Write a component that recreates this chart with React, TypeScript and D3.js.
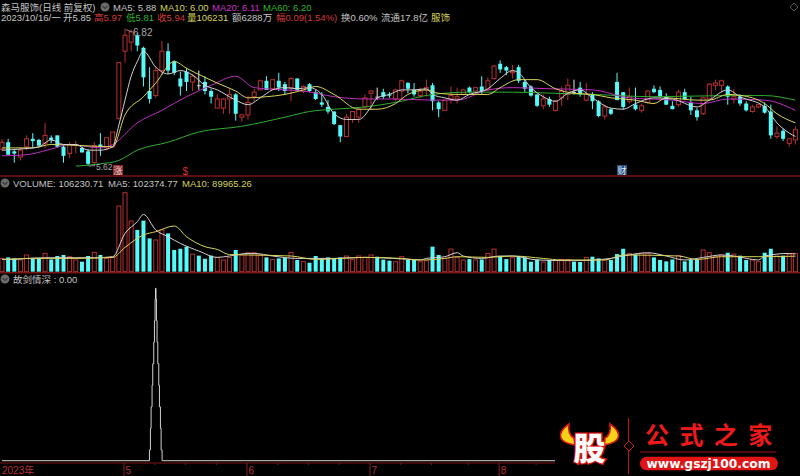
import { useEffect, useRef } from "react";
import * as d3 from "d3";

const opens = [5.77,5.83,5.75,5.70,5.79,5.86,5.85,5.82,5.87,5.89,5.79,5.73,5.80,5.78,5.75,5.65,5.81,5.78,5.79,6.04,6.63,6.71,6.77,6.66,6.28,6.24,6.46,6.63,6.54,6.39,6.45,6.36,6.33,6.36,6.28,6.13,6.13,6.21,6.25,6.05,6.07,6.23,6.29,6.37,6.30,6.37,6.34,6.31,6.39,6.28,6.34,6.27,6.18,6.14,6.10,5.98,5.88,6.03,6.05,6.14,6.26,6.23,6.27,6.25,6.21,6.28,6.35,6.29,6.24,6.29,6.33,6.18,6.11,6.21,6.21,6.25,6.31,6.28,6.32,6.29,6.39,6.52,6.49,6.44,6.49,6.36,6.32,6.25,6.15,6.21,6.11,6.22,6.25,6.27,6.31,6.20,6.25,6.19,6.06,6.12,6.36,6.27,6.19,6.16,6.11,6.18,6.30,6.29,6.23,6.15,6.16,6.27,6.18,6.11,6.08,6.21,6.33,6.33,6.32,6.21,6.23,6.17,6.10,6.14,6.15,6.10,5.88,5.93,5.82,5.85];
const highs = [5.86,5.86,5.76,5.78,5.89,5.91,5.86,6.00,5.89,5.89,5.81,5.83,5.84,5.79,5.77,5.83,5.91,5.87,5.92,6.53,6.83,6.82,6.79,6.67,6.49,6.49,6.72,6.70,6.55,6.45,6.48,6.43,6.46,6.41,6.30,6.25,6.22,6.30,6.26,6.08,6.24,6.30,6.38,6.41,6.38,6.44,6.36,6.40,6.39,6.33,6.35,6.29,6.27,6.20,6.10,5.98,6.08,6.10,6.14,6.25,6.29,6.31,6.30,6.27,6.30,6.38,6.36,6.35,6.31,6.38,6.35,6.19,6.20,6.32,6.31,6.30,6.32,6.31,6.41,6.40,6.51,6.55,6.50,6.51,6.51,6.38,6.33,6.25,6.25,6.23,6.20,6.32,6.39,6.38,6.36,6.35,6.27,6.20,6.16,6.13,6.44,6.27,6.31,6.31,6.17,6.29,6.33,6.32,6.26,6.19,6.29,6.30,6.23,6.13,6.23,6.35,6.38,6.38,6.33,6.30,6.25,6.19,6.16,6.17,6.18,6.16,5.97,5.95,5.86,5.97];
const lows = [5.75,5.72,5.65,5.67,5.76,5.78,5.79,5.78,5.82,5.78,5.65,5.69,5.73,5.74,5.62,5.64,5.71,5.76,5.78,6.03,6.53,6.63,6.63,6.32,6.17,6.22,6.42,6.43,6.42,6.24,6.28,6.28,6.29,6.25,6.17,6.13,6.08,6.08,6.02,6.01,6.03,6.19,6.29,6.29,6.29,6.28,6.25,6.19,6.28,6.26,6.27,6.20,6.14,6.08,5.98,5.83,5.88,6.00,6.00,6.13,6.11,6.20,6.21,6.22,6.19,6.21,6.26,6.23,6.22,6.23,6.11,6.05,6.11,6.17,6.17,6.24,6.26,6.25,6.25,6.28,6.38,6.44,6.42,6.39,6.35,6.27,6.23,6.14,6.12,6.14,6.10,6.15,6.20,6.25,6.23,6.19,6.12,6.05,6.03,6.07,6.20,6.12,6.17,6.11,6.09,6.17,6.26,6.22,6.16,6.12,6.14,6.20,6.07,6.02,6.07,6.20,6.29,6.27,6.16,6.17,6.15,6.10,6.09,6.13,6.08,5.86,5.86,5.84,5.79,5.81];
const closes = [5.83,5.72,5.73,5.76,5.86,5.84,5.80,5.89,5.85,5.79,5.71,5.81,5.81,5.74,5.64,5.80,5.79,5.87,5.92,6.53,6.77,6.80,6.68,6.40,6.21,6.46,6.63,6.46,6.44,6.32,6.36,6.41,6.33,6.28,6.23,6.21,6.21,6.25,6.08,6.07,6.18,6.27,6.37,6.29,6.38,6.31,6.28,6.39,6.29,6.32,6.28,6.21,6.16,6.10,5.99,5.88,6.05,6.10,6.12,6.22,6.28,6.23,6.23,6.24,6.29,6.37,6.30,6.25,6.28,6.31,6.19,6.12,6.20,6.24,6.23,6.29,6.27,6.31,6.28,6.37,6.50,6.47,6.46,6.45,6.37,6.30,6.24,6.15,6.21,6.16,6.19,6.28,6.33,6.27,6.25,6.25,6.19,6.06,6.14,6.08,6.20,6.14,6.23,6.12,6.15,6.28,6.27,6.23,6.16,6.12,6.27,6.21,6.11,6.05,6.22,6.34,6.35,6.37,6.23,6.23,6.17,6.11,6.14,6.16,6.09,5.89,5.91,5.86,5.86,5.94];
// volume in thousands of lots
const volumes = [77,83,77,68,97,77,77,106,71,91,97,87,68,58,91,112,97,77,83,381,458,294,242,296,193,184,242,222,126,133,145,102,93,75,93,83,68,83,126,97,110,110,97,83,71,77,81,112,68,58,52,91,75,83,77,83,91,71,91,83,97,87,70,64,58,87,68,68,58,64,145,97,77,131,83,68,73,68,71,106,131,91,73,81,91,83,58,71,56,68,64,71,71,58,56,83,87,77,68,68,102,133,106,100,106,106,83,68,60,71,93,60,68,71,126,110,87,97,110,102,93,68,68,58,110,133,91,93,102,106];

// moving averages as [bar, value]
const ma5: [number, number][] = [[0,5.76],[3,5.77],[6,5.79],[8,5.85],[10,5.81],[12,5.81],[14,5.76],[16,5.76],[18,5.79],[19,5.98],[20,6.20],[21,6.41],[22,6.54],[23,6.63],[25,6.49],[27,6.43],[29,6.46],[31,6.42],[33,6.33],[35,6.29],[38,6.20],[40,6.16],[42,6.22],[44,6.29],[46,6.31],[48,6.30],[50,6.31],[52,6.25],[54,6.08],[56,6.03],[58,6.03],[60,6.14],[61,6.22],[63,6.25],[65,6.29],[67,6.29],[69,6.30],[70,6.25],[72,6.22],[74,6.20],[76,6.25],[79,6.30],[81,6.39],[83,6.46],[84,6.44],[86,6.31],[88,6.23],[90,6.19],[92,6.26],[94,6.29],[96,6.22],[99,6.13],[101,6.12],[103,6.17],[106,6.22],[109,6.21],[113,6.14],[115,6.20],[118,6.29],[120,6.23],[124,6.14],[126,6.00],[128,5.91],[129,5.88]];
const ma10: [number, number][] = [[0,5.78],[5,5.78],[8,5.81],[13,5.80],[18,5.79],[20,6.07],[23,6.23],[25,6.35],[28,6.54],[30,6.48],[33,6.40],[35,6.35],[38,6.28],[40,6.22],[43,6.23],[46,6.25],[49,6.29],[51,6.32],[54,6.25],[58,6.12],[61,6.12],[64,6.17],[66,6.25],[69,6.29],[71,6.26],[74,6.25],[79,6.25],[81,6.31],[84,6.38],[87,6.38],[90,6.30],[93,6.26],[96,6.25],[99,6.22],[103,6.20],[106,6.17],[108,6.22],[113,6.20],[115,6.20],[118,6.25],[122,6.22],[124,6.17],[126,6.08],[129,6.00]];
const ma20: [number, number][] = [[0,5.71],[4,5.72],[8,5.77],[11,5.81],[16,5.78],[18,5.81],[22,6.00],[26,6.11],[30,6.23],[34,6.33],[38,6.41],[41,6.31],[46,6.29],[49,6.28],[54,6.23],[59,6.21],[64,6.21],[70,6.20],[74,6.20],[79,6.29],[83,6.31],[89,6.30],[96,6.29],[102,6.22],[109,6.20],[114,6.17],[118,6.21],[124,6.20],[129,6.11]];
const ma60: [number, number][] = [[12,5.62],[16,5.64],[19,5.67],[22,5.76],[27,5.83],[32,5.92],[39,5.97],[46,6.05],[50,6.10],[54,6.12],[59,6.14],[64,6.18],[70,6.25],[76,6.27],[83,6.27],[90,6.26],[96,6.25],[106,6.23],[118,6.24],[124,6.24],[129,6.20]];
const volMa5: [number, number][] = [[0,71],[2,71],[4,77],[8,81],[12,81],[15,81],[18,87],[20,222],[22,290],[23,332],[25,242],[27,203],[29,164],[32,120],[35,83],[37,91],[40,106],[41,106],[44,91],[48,77],[54,77],[59,83],[65,74],[68,68],[69,77],[72,87],[74,110],[75,91],[78,77],[81,91],[83,91],[87,68],[93,64],[99,77],[101,91],[105,110],[108,91],[111,68],[114,83],[117,97],[119,91],[123,68],[124,91],[128,106],[129,102]];
const volMa10: [number, number][] = [[0,71],[5,77],[12,77],[18,83],[20,141],[23,213],[25,232],[28,265],[30,203],[33,145],[35,129],[37,99],[40,97],[47,91],[51,71],[59,83],[65,77],[68,68],[72,77],[74,87],[79,83],[83,91],[88,77],[91,68],[98,68],[101,97],[110,91],[113,71],[117,87],[123,87],[129,90]];

// lower study: bar 25 spike, each step's level and half width in bars
const spikeLevels = [0,1,3,5,7,9,11,13,15,16];
const spikeHalfWidths = [1.03,0.87,0.76,0.6,0.49,0.33,0.21,0.11,0.04];
const spikeBar = 25;

const monthLabels = ["5","6","7","8"];
const monthBars = [20,40,60,81];
const minorBars = [25,30,35,45,50,55,65,70,76,87];

const FONT = "'Liberation Sans','Noto Sans CJK SC',sans-serif";
const CJK = "'Noto Sans CJK SC',sans-serif";
const RED = "#b83030";
const CYAN = "#55fbfb";

export default function App() {
  const svgRef = useRef<SVGSVGElement>(null);

  useEffect(() => {
    document.body.style.margin = "0";
    document.body.style.background = "#000";
    const svg = d3.select(svgRef.current);
    svg.selectAll("*").remove();

    const x = d3.scaleLinear().domain([0, 129]).range([2, 795.4]);
    const y = d3.scaleLinear().domain([5.62, 6.82]).range([166.1, 29.6]);
    const yVol = d3.scaleLinear().domain([0, 458]).range([271.7, 192.7]);
    const ySpike = d3.scaleLinear().domain([0, 16]).range([460.7, 288.3]);

    // candles
    const bars = d3.range(closes.length);
    const colorOf = (i: number) =>
      opens[i] === closes[i] ? "#e8e8e8" : closes[i] > opens[i] ? RED : CYAN;
    svg.append("g").selectAll("line").data(bars).enter().append("line")
      .attr("x1", (i) => x(i)).attr("x2", (i) => x(i))
      .attr("y1", (i) => y(highs[i])).attr("y2", (i) => y(lows[i]))
      .attr("stroke", colorOf).attr("stroke-width", 1);
    svg.append("g").selectAll("rect").data(bars).enter().append("rect")
      .attr("x", (i) => x(i) - 2)
      .attr("width", 4)
      .attr("y", (i) => y(Math.max(opens[i], closes[i])))
      .attr("height", (i) => Math.max(0.8, Math.abs(y(opens[i]) - y(closes[i]))))
      .attr("fill", (i) => (closes[i] > opens[i] ? "#000" : colorOf(i)))
      .attr("stroke", (i) => (closes[i] > opens[i] ? RED : "none"))
      .attr("stroke-width", 1);

    const priceLine = d3.line<[number, number]>()
      .x((d) => x(d[0])).y((d) => y(d[1])).curve(d3.curveMonotoneX);
    const volLine = d3.line<[number, number]>()
      .x((d) => x(d[0])).y((d) => yVol(d[1])).curve(d3.curveMonotoneX);
    const drawLine = (d: string | null, color: string) =>
      svg.append("path").attr("d", d).attr("fill", "none").attr("stroke", color).attr("stroke-width", 1);

    drawLine(priceLine(ma60), "#2fae2f");
    drawLine(priceLine(ma20), "#bd2fbd");
    drawLine(priceLine(ma10), "#d9d65c");
    drawLine(priceLine(ma5), "#d2d2d2");

    // volume
    svg.append("g").selectAll("rect").data(bars).enter().append("rect")
      .attr("x", (i) => x(i) - 2)
      .attr("width", 4)
      .attr("y", (i) => yVol(volumes[i]))
      .attr("height", (i) => yVol(0) - yVol(volumes[i]))
      .attr("fill", (i) => (closes[i] > opens[i] ? "#000" : CYAN))
      .attr("stroke", (i) => (closes[i] > opens[i] ? RED : "none"))
      .attr("stroke-width", 1);
    drawLine(volLine(volMa5), "#d2d2d2");
    drawLine(volLine(volMa10), "#d9d65c");

    // spike study
    const spike: [number, number][] = [[0, 0]];
    spikeHalfWidths.forEach((w, k) => {
      spike.push([spikeBar - w, spikeLevels[k]], [spikeBar - w, spikeLevels[k + 1]]);
    });
    [...spikeHalfWidths].reverse().forEach((w, k) => {
      const n = spikeHalfWidths.length - 1 - k;
      spike.push([spikeBar + w, spikeLevels[n + 1]], [spikeBar + w, spikeLevels[n]]);
    });
    spike.push([129.6, 0]);
    const spikeLine = d3.line<[number, number]>().x((d) => x(d[0])).y((d) => ySpike(d[1]));
    svg.append("path").attr("d", spikeLine(spike)).attr("fill", "none")
      .attr("stroke", "#e6e6e6").attr("stroke-width", 0.9);

    // separators and axis
    [176, 272.8, 463].forEach((yy, k) => {
      svg.append("line").attr("x1", 0).attr("x2", 800).attr("y1", yy).attr("y2", yy)
        .attr("stroke", "#7c1414").attr("stroke-width", k === 2 ? 1 : 1.6);
    });
    minorBars.forEach((b) => {
      svg.append("line").attr("x1", x(b) - 1).attr("x2", x(b) - 1).attr("y1", 463).attr("y2", 465)
        .attr("stroke", "#7c1414");
    });
    monthBars.forEach((b, k) => {
      svg.append("line").attr("x1", x(b) - 1).attr("x2", x(b) - 1).attr("y1", 463).attr("y2", 476)
        .attr("stroke", "#8c1c1c");
      svg.append("text").attr("x", x(b) + 0.5).attr("y", 474).attr("fill", "#b83232")
        .attr("font-size", 10).attr("font-family", FONT).text(monthLabels[k]);
    });

    const label = (t: string, lx: number, ly: number, color: string, size = 9.5) =>
      svg.append("text").attr("x", lx).attr("y", ly).attr("fill", color)
        .attr("font-size", size).attr("font-family", FONT).text(t);

    label("2023年", 2, 474, "#b83232", 10);

    // header rows
    const GRAY = "#c4c4c4";
    const YEL = "#d6d35a";
    const MAG = "#c733c7";
    const GRN = "#31b531";
    label("森马服饰(日线 前复权)", 1, 11, GRAY);
    label("MA5: 5.88", 113, 11, GRAY);
    label("MA10: 6.00", 160, 11, YEL);
    label("MA20: 6.11", 212, 11, MAG);
    label("MA60: 6.20", 263, 11, GRN);
    label("2023/10/16/一", 1, 21, GRAY);
    label("开5.85", 63, 21, GRAY);
    label("高5.97", 94, 21, "#d03a3a");
    label("低5.81", 126, 21, GRN);
    label("收5.94", 157, 21, "#d03a3a");
    label("量106231", 187, 21, YEL);
    label("额6288万", 232, 21, GRAY);
    label("幅0.09(1.54%)", 276, 21, "#d03a3a");
    label("换0.60%", 341, 21, GRAY);
    label("流通17.8亿", 381, 21, GRAY);
    label("服饰", 431, 21, YEL);
    label("VOLUME: 106230.71", 13, 187, GRAY);
    label("MA5: 102374.77", 108, 187, GRAY);
    label("MA10: 89965.26", 182, 187, YEL);
    label("故剑情深 : 0.00", 13, 283, GRAY);

    // folding icons
    [[105, 7], [5, 183], [5, 279]].forEach(([cx, cy]) => {
      svg.append("circle").attr("cx", cx).attr("cy", cy).attr("r", 4.5).attr("fill", "#6a6a6a");
      svg.append("path").attr("d", `M${cx - 2.5},${cy - 1}L${cx},${cy + 1.5}L${cx + 2.5},${cy - 1}`)
        .attr("fill", "none").attr("stroke", "#1c1c1c").attr("stroke-width", 1);
    });
    svg.append("path").attr("d", "M794,3L798,7L794,11L790,7Z").attr("fill", "none").attr("stroke", "#555");

    // high / low notes
    svg.append("line").attr("x1", x(20) + 1).attr("y1", y(6.82)).attr("x2", 132).attr("y2", 32)
      .attr("stroke", "#aaa").attr("stroke-width", 0.8);
    label("6.82", 133, 36, "#a8a8a8", 10);
    svg.append("line").attr("x1", x(14) + 1).attr("y1", y(5.62)).attr("x2", 95).attr("y2", 165.5)
      .attr("stroke", "#aaa").attr("stroke-width", 0.8);
    label("5.62", 96, 169.5, "#a8a8a8", 8.5);

    // event badges
    svg.append("rect").attr("x", 113).attr("y", 165).attr("width", 10).attr("height", 10).attr("fill", "#8a2a2a");
    label("涨", 113.5, 174, "#f0d8d8", 9);
    label("$", 182.5, 175, "#d03030", 10);
    svg.append("rect").attr("x", 617).attr("y", 165).attr("width", 10).attr("height", 10).attr("fill", "#23507e");
    label("财", 617.5, 174, "#e4eef8", 9);

    // watermark
    svg.append("rect").attr("x", 555).attr("y", 414).attr("width", 245).attr("height", 62).attr("fill", "#000");
    const horn = (d: string) =>
      svg.append("path").attr("d", d).attr("fill", "#f5d21a").attr("stroke", "#e01515").attr("stroke-width", 1.6);
    horn("M569,424C563,428 559,433 561,438C563,443 570,444 575,445L574,438C570,436 568,431 569,424Z");
    horn("M610,424C616,428 620,433 618,438C616,443 609,444 604,445L605,438C609,436 611,431 610,424Z");
    svg.append("text").attr("x", 589.5).attr("y", 460).attr("text-anchor", "middle")
      .attr("font-size", 32).attr("font-weight", 900).attr("font-family", CJK)
      .attr("fill", "#fff").attr("stroke", "#e01515").attr("stroke-width", 2.5)
      .attr("paint-order", "stroke").text("股");
    svg.append("line").attr("x1", 628.5).attr("x2", 628.5).attr("y1", 418).attr("y2", 474).attr("stroke", "#c01818");
    svg.append("path").attr("d", "M629,441L634,446L629,451L624,446Z").attr("fill", "#000").attr("stroke", "#d01818");
    ["公", "式", "之", "家"].forEach((c, k) => {
      svg.append("text").attr("x", 657 + k * 34.4).attr("y", 444).attr("text-anchor", "middle")
        .attr("font-size", 24).attr("font-weight", 700).attr("font-family", CJK)
        .attr("fill", "#ee1a1a").text(c);
    });
    svg.append("line").attr("x1", 640).attr("x2", 776).attr("y1", 452).attr("y2", 452)
      .attr("stroke", "#6e0c0c").attr("stroke-width", 1.5);
    svg.append("rect").attr("x", 640).attr("y", 456.7).attr("width", 138).attr("height", 13.6)
      .attr("rx", 6.8).attr("fill", "#e01414");
    svg.append("text").attr("x", 646.5).attr("y", 467.5).attr("font-size", 12)
      .attr("font-weight", 700).attr("font-family", "'DejaVu Sans',sans-serif")
      .attr("textLength", 124).attr("lengthAdjust", "spacingAndGlyphs")
      .attr("fill", "#fff").text("www.gszj100.com");
  }, []);

  return <svg ref={svgRef} width={800} height={476} style={{ display: "block", background: "#000" }} />;
}
